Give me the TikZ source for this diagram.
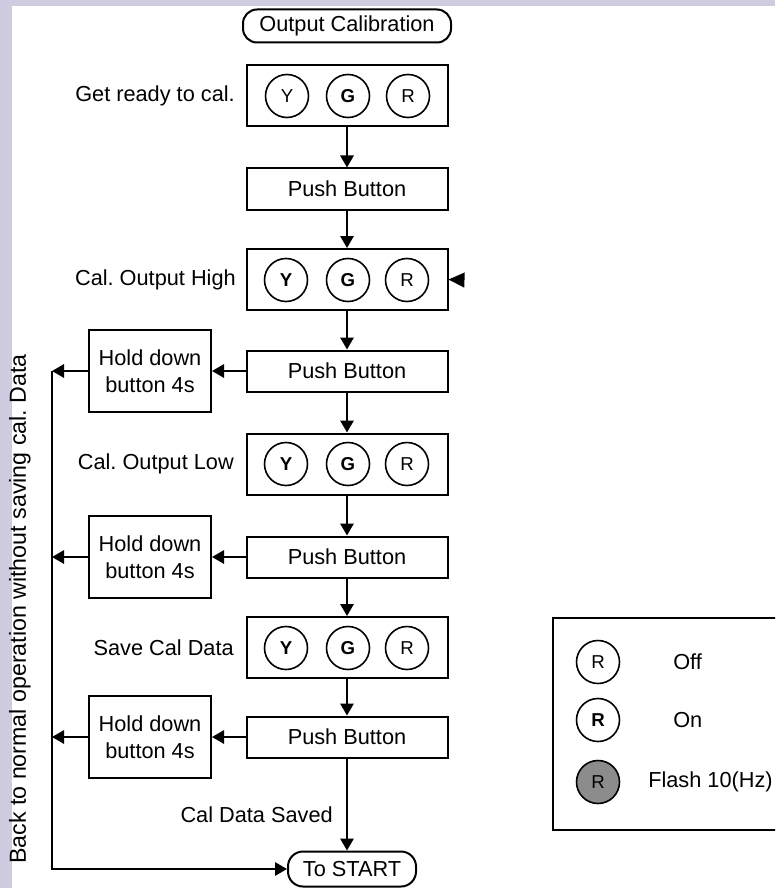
\documentclass[tikz,border=0pt]{standalone}
\usepackage{fontspec}
\setmainfont{Liberation Sans}
\usetikzlibrary{arrows.meta,shapes.geometric}
\definecolor{lav}{RGB}{207,203,224}
\definecolor{flashgray}{RGB}{140,140,140}
\def\pxu{0.75pt}
\frenchspacing
\tikzset{
  statebox/.style={draw, line width=1.5pt, minimum width=201*\pxu, minimum height=61*\pxu, inner sep=0pt},
  pushbox/.style={draw, line width=1.5pt, minimum width=201*\pxu, minimum height=41*\pxu, inner sep=0pt},
  holdbox/.style={draw, line width=1.5pt, minimum width=122*\pxu, minimum height=82*\pxu, inner sep=0pt, align=center},
  lamp/.style={circle, draw, line width=1.2pt, minimum size=43*\pxu, inner sep=0pt, font=\fontsize{14}{16}\selectfont},
  lampon/.style={lamp, font=\fontsize{14}{16}\selectfont\bfseries},
  lampflash/.style={lamp, fill=flashgray},
  terminal/.style={rectangle, draw, line width=1.5pt, inner sep=0pt},
  arr/.style={line width=1.5pt, -{Triangle[length=9pt,width=10pt]}},
  bigarr/.style={line width=1.5pt, -{Triangle[length=12pt,width=11pt]}},
  lbl/.style={anchor=east, inner sep=0pt},
  lgtext/.style={anchor=west, inner sep=0pt}
}
\begin{document}
\begin{tikzpicture}[x=0.75pt,y=-0.75pt, font=\fontsize{16.3}{20}\selectfont]
\fill[lav] (0,0) rectangle (775,888);
\fill[white] (12,6) rectangle (775,888);
\useasboundingbox (0,0) rectangle (775,888);

% terminals
\node[terminal, minimum width=208*\pxu, minimum height=33*\pxu, rounded corners=14*\pxu] (start) at (347,26) {Output Calibration};
\node[terminal, minimum width=128*\pxu, minimum height=35*\pxu, rounded corners=15*\pxu] (tostart) at (352,869) {To START};

% state boxes
\node[statebox] (s1) at (347,95.5) {};
\node[statebox] (s2) at (347,279.5) {};
\node[statebox] (s3) at (347,464) {};
\node[statebox] (s4) at (347,647.5) {};

% lamps
\node[lamp]   (s1y) at (287,96) {Y};
\node[lampon] (s1g) at (348,96) {G};
\node[lamp]   (s1r) at (408,96) {R};
\node[lampon] (s2y) at (286,280) {Y};
\node[lampon] (s2g) at (348,280) {G};
\node[lamp]   (s2r) at (407,280) {R};
\node[lampon] (s3y) at (286,464) {Y};
\node[lampon] (s3g) at (348,464) {G};
\node[lamp]   (s3r) at (407,464) {R};
\node[lampon] (s4y) at (286,648) {Y};
\node[lampon] (s4g) at (348,648) {G};
\node[lamp]   (s4r) at (407,648) {R};

% state labels
\node[lbl] (t1) at (235,96) {Get ready to cal.};
\node[lbl] (t2) at (236,280) {Cal. Output High};
\node[lbl] (t3) at (234,464) {Cal. Output Low};
\node[lbl] (t4) at (234,648) {Save Cal Data};

% push buttons
\node[pushbox] (pb1) at (347,189) {Push Button};
\node[pushbox] (pb2) at (347,371) {Push Button};
\node[pushbox] (pb3) at (347,557) {Push Button};
\node[pushbox] (pb4) at (347,737) {Push Button};

% hold boxes
\node[holdbox] (h1) at (150,371) {Hold down\\button 4s};
\node[holdbox] (h2) at (150,557) {Hold down\\button 4s};
\node[holdbox] (h3) at (150,737) {Hold down\\button 4s};

\node[lbl] (saved) at (333,815) {Cal Data Saved};

% left return line
\coordinate (l1) at (52,371);
\coordinate (l2) at (52,557);
\coordinate (l3) at (52,737);
\coordinate (lb) at (52,869);
\coordinate (rin) at (463,280);

\node[rotate=90, font=\fontsize{17.4}{20}\selectfont] (back) at (20,609) {Back to normal operation without saving cal. Data};

% connectors
\draw[arr] (s1) -- (pb1);
\draw[arr] (pb1) -- (s2);
\draw[arr] (s2) -- (pb2);
\draw[arr] (pb2) -- (s3);
\draw[arr] (s3) -- (pb3);
\draw[arr] (pb3) -- (s4);
\draw[arr] (s4) -- (pb4);
\draw[arr] (pb4.south) -- (pb4.south |- tostart.north);
\draw[arr] (pb2) -- (h1);
\draw[arr] (pb3) -- (h2);
\draw[arr] (pb4) -- (h3);
\draw[arr] (h1) -- (l1);
\draw[arr] (h2) -- (l2);
\draw[arr] (h3) -- (l3);
\draw[arr] (l1) -- (lb) -- (tostart);
\draw[bigarr] (rin) -- (s2.east);

% legend
\begin{scope}
\clip (0,0) rectangle (775,888);
\node[draw, line width=1.5pt, anchor=north west, minimum width=240*\pxu, minimum height=212*\pxu, inner sep=0pt] (legend) at (552,617) {};
\end{scope}
\node[lamp]      (lg1) at (598,662) {R};
\node[lampon]    (lg2) at (598,720) {R};
\node[lampflash] (lg3) at (598,782) {R};
\node[lgtext] (lt1) at (673,662) {Off};
\node[lgtext] (lt2) at (673,720) {On};
\node[lgtext] (lt3) at (648,782) {Flash 10(Hz)};
\end{tikzpicture}
\end{document}
